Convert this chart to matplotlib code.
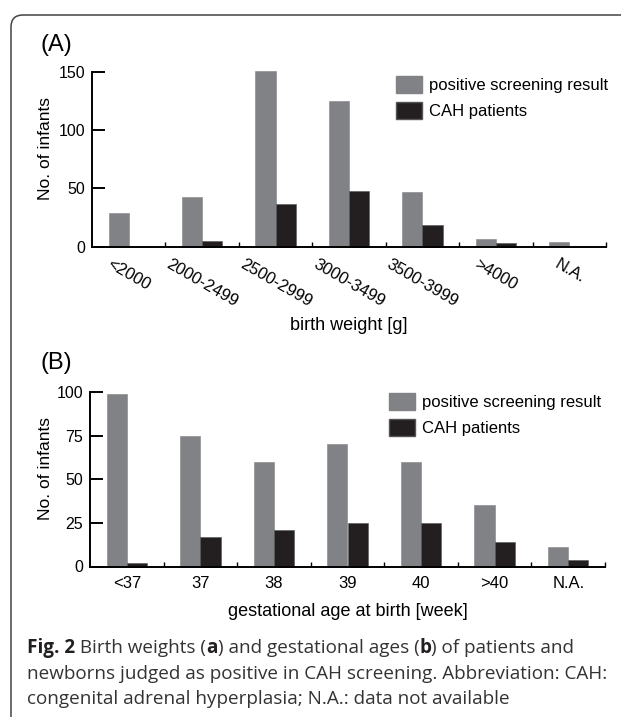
import numpy as np
import matplotlib
matplotlib.use('Agg')
import matplotlib.pyplot as plt
from matplotlib.patches import Patch, FancyBboxPatch
from matplotlib.transforms import IdentityTransform
from matplotlib.offsetbox import TextArea, HPacker, AnchoredOffsetbox

plt.rcParams['font.family'] = ['Liberation Sans', 'DejaVu Sans']

# panel A: birth weight
weight_labels = ['<2000', '2000-2499', '2500-2999', '3000-3499', '3500-3999', '>4000', 'N.A.']
weight_positive = [29, 43, 151, 125, 47, 7, 4]
weight_cah = [0, 5, 37, 48, 19, 3, 0]

# panel B: gestational age
age_labels = ['<37', '37', '38', '39', '40', '>40', 'N.A.']
age_positive = [99, 75, 60, 70, 60, 35, 11]
age_cah = [2, 17, 21, 25, 25, 14, 4]

series_names = ['positive screening result', 'CAH patients']
GRAY = '#818285'
BLACK = '#231f20'

W, H = 621, 717
fig = plt.figure(figsize=(W / 100, H / 100), dpi=100)


def px_axes(left, right, top, bottom):
    return fig.add_axes([left / W, 1 - bottom / H, (right - left) / W, (bottom - top) / H])


def draw_panel(ax, labels, pos, cah, ymax, yticks, rot, xlabel, xlab_y, leg_x, leg_y):
    x = np.arange(len(labels))
    bw = 0.275
    ax.bar(x - bw / 2, pos, bw, color=GRAY, edgecolor=GRAY, linewidth=0.4, clip_on=False)
    ax.bar(x + bw / 2, cah, bw, color=BLACK, edgecolor='#555555', linewidth=0.4, clip_on=False)
    ax.set_xlim(-0.5, len(labels) - 0.5)
    ax.set_ylim(0, ymax)
    for s in ['top', 'right']:
        ax.spines[s].set_visible(False)
    for s in ['left', 'bottom']:
        ax.spines[s].set_linewidth(1.4)
    ax.spines['left'].set_bounds(0, ymax)
    ax.set_yticks(yticks)
    ax.tick_params(axis='y', direction='in', length=9.5, width=1.4, pad=5, labelsize=11.5)
    ax.set_xticks(x)
    ax.set_xticks(list(x[:-1] + 0.5) + [len(labels) - 0.5], minor=True)
    ax.tick_params(axis='x', which='major', length=0, labelsize=12, pad=7)
    ax.tick_params(axis='x', which='minor', direction='in', length=3.5, width=1.0)
    if rot:
        ax.set_xticklabels(labels, rotation=-30, ha='center', va='top')
    else:
        ax.set_xticklabels(labels)
    ax.set_xlabel(xlabel, fontsize=13)
    ax.xaxis.set_label_coords(0.5, xlab_y)
    ax.xaxis.label.set_va('center')
    ax.set_ylabel('No. of infants', fontsize=12.5)
    ax.yaxis.label.set_va('center')
    handles = [Patch(facecolor=GRAY, edgecolor=GRAY), Patch(facecolor=BLACK, edgecolor='#555555')]
    ax.legend(handles, series_names, loc='upper left', bbox_to_anchor=(leg_x, leg_y),
              frameon=False, fontsize=12, handlelength=1.56, handleheight=1.2,
              handletextpad=0.42, labelspacing=0.5, borderpad=0, borderaxespad=0)


ax1 = px_axes(92, 606, 71.7, 246.7)
draw_panel(ax1, weight_labels, weight_positive, weight_cah, 150, [0, 50, 100, 150], True,
           'birth weight [g]', (246.7 - 326) / 175, 0.591, 0.975)
ax1.yaxis.set_label_coords((46 - 92) / 514, 0.564)

ax2 = px_axes(90, 605, 392, 566.5)
draw_panel(ax2, age_labels, age_positive, age_cah, 100, [0, 25, 50, 75, 100], False,
           'gestational age at birth [week]', (566.5 - 612) / 174.5, 0.58, 0.994)
ax2.yaxis.set_label_coords((46 - 90) / 515, 0.559)

fig.text(41 / W, 1 - 45 / H, '(A)', fontsize=17, va='center', ha='left')
fig.text(41 / W, 1 - 363 / H, '(B)', fontsize=17, va='center', ha='left')

# caption
CAP_SIZE = 13.6
CAP_COLOR = '#333333'
first_line = [('Fig. 2', 'bold'), (' Birth weights (', 'normal'), ('a', 'bold'),
              (') and gestational ages (', 'normal'), ('b', 'bold'),
              (') of patients and', 'normal')]
other_lines = ['newborns judged as positive in CAH screening. Abbreviation: CAH:',
               'congenital adrenal hyperplasia; N.A.: data not available']

runs = [TextArea(t, textprops=dict(fontsize=CAP_SIZE, family='Open Sans', weight=w,
                                   color=BLACK if w == 'bold' else CAP_COLOR))
        for t, w in first_line]
pack = HPacker(children=runs, align='baseline', pad=0, sep=0)
anchored = AnchoredOffsetbox(loc='center left', child=pack, pad=0, borderpad=0, frameon=False,
                             bbox_to_anchor=(27 / W, 1 - 648 / H), bbox_transform=fig.transFigure)
fig.add_artist(anchored)
for i, line in enumerate(other_lines):
    fig.text(27 / W, 1 - (674 + 25 * i) / H, line, fontsize=CAP_SIZE, family='Open Sans',
             color=CAP_COLOR, va='center', ha='left')

# rounded border
box = FancyBboxPatch((11, -20), 700, 722, boxstyle='round,pad=0,rounding_size=12',
                     transform=IdentityTransform(), facecolor='none', edgecolor='#444444',
                     linewidth=1.1)
fig.add_artist(box)

fig.savefig('out.png', dpi=100)
